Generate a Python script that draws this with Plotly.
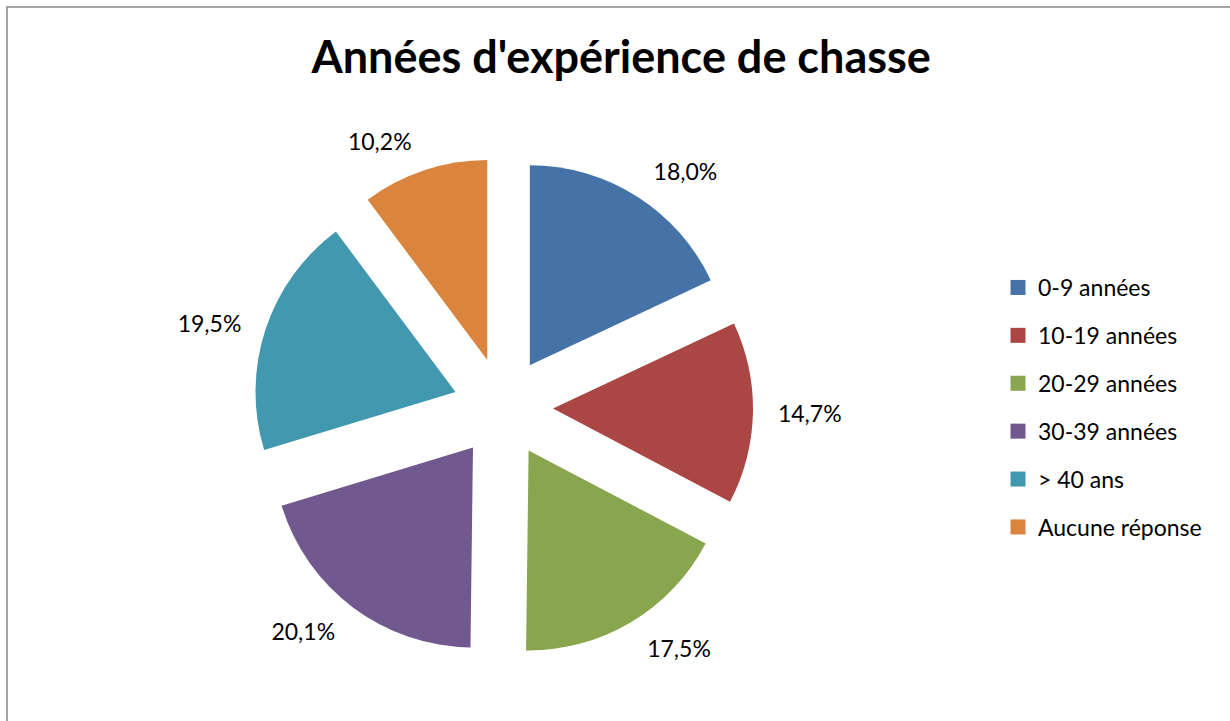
import plotly.graph_objects as go

categories = ["0-9 années", "10-19 années", "20-29 années", "30-39 années", "> 40 ans", "Aucune réponse"]
values = [18.0, 14.7, 17.5, 20.1, 19.5, 10.2]
colors = ["#4572A7", "#AA4643", "#89A54E", "#71588F", "#4198AF", "#DB843D"]

W, H = 1230, 721
FONT = "Lato"
CX, CY = 503, 407.5      # pie centre (px)
R_PIE = 250              # half-size of the pie domain (px)
R_LBL = 268              # half-size of the (invisible) label pie domain (px)


def dom(half):
    return dict(x=[(CX - half) / W, (CX + half) / W],
                y=[1 - (CY + half) / H, 1 - (CY - half) / H])


fig = go.Figure()
# invisible copy of the pie, slightly larger, used only to place the data labels
fig.add_trace(go.Pie(
    labels=categories, values=values, sort=False, direction="clockwise", rotation=0,
    pull=[0.25] * len(values),
    marker=dict(colors=["rgba(0,0,0,0)"] * len(values), line=dict(width=0)),
    texttemplate="%{percent:.1%}", textposition="outside",
    textfont=dict(family=FONT, size=23, color="#000000"),
    showlegend=False, hoverinfo="skip", domain=dom(R_LBL),
))
# the visible exploded pie
fig.add_trace(go.Pie(
    labels=categories, values=values, sort=False, direction="clockwise", rotation=0,
    pull=[0.25] * len(values),
    marker=dict(colors=colors, line=dict(width=0)),
    textinfo="none",
    showlegend=False, hoverinfo="label+percent", domain=dom(R_PIE),
))

# legend entries (separate groups so the spacing can match the reference)
for cat, col in zip(categories, colors):
    fig.add_trace(go.Scatter(
        x=[None], y=[None], mode="markers", name=cat, legendgroup=cat,
        marker=dict(symbol="square", size=15, color=col),
        showlegend=True,
    ))

fig.update_layout(
    width=W, height=H,
    margin=dict(l=0, r=0, t=0, b=0, autoexpand=False),
    paper_bgcolor="white", plot_bgcolor="white",
    separators=", ",
    xaxis=dict(visible=False), yaxis=dict(visible=False),
    title=dict(text="<b>Années d'expérience de chasse</b>", x=0.505, xanchor="center",
               y=1 - 57.5 / H, yanchor="middle",
               font=dict(family=FONT, size=45, color="#000000")),
    legend=dict(x=998 / W, y=1 - 266 / H, xanchor="left", yanchor="top",
                font=dict(family=FONT, size=23, color="#000000"),
                tracegroupgap=15, bgcolor="rgba(0,0,0,0)"),
    shapes=[dict(type="rect", xref="paper", yref="paper",
                 x0=7 / W, x1=1.05, y0=-0.05, y1=1 - 7 / H,
                 line=dict(color="#868686", width=1.5), fillcolor="rgba(0,0,0,0)")],
)

fig.write_html("out.html", config={"displayModeBar": False},
               post_script="document.body.style.margin='0';")
